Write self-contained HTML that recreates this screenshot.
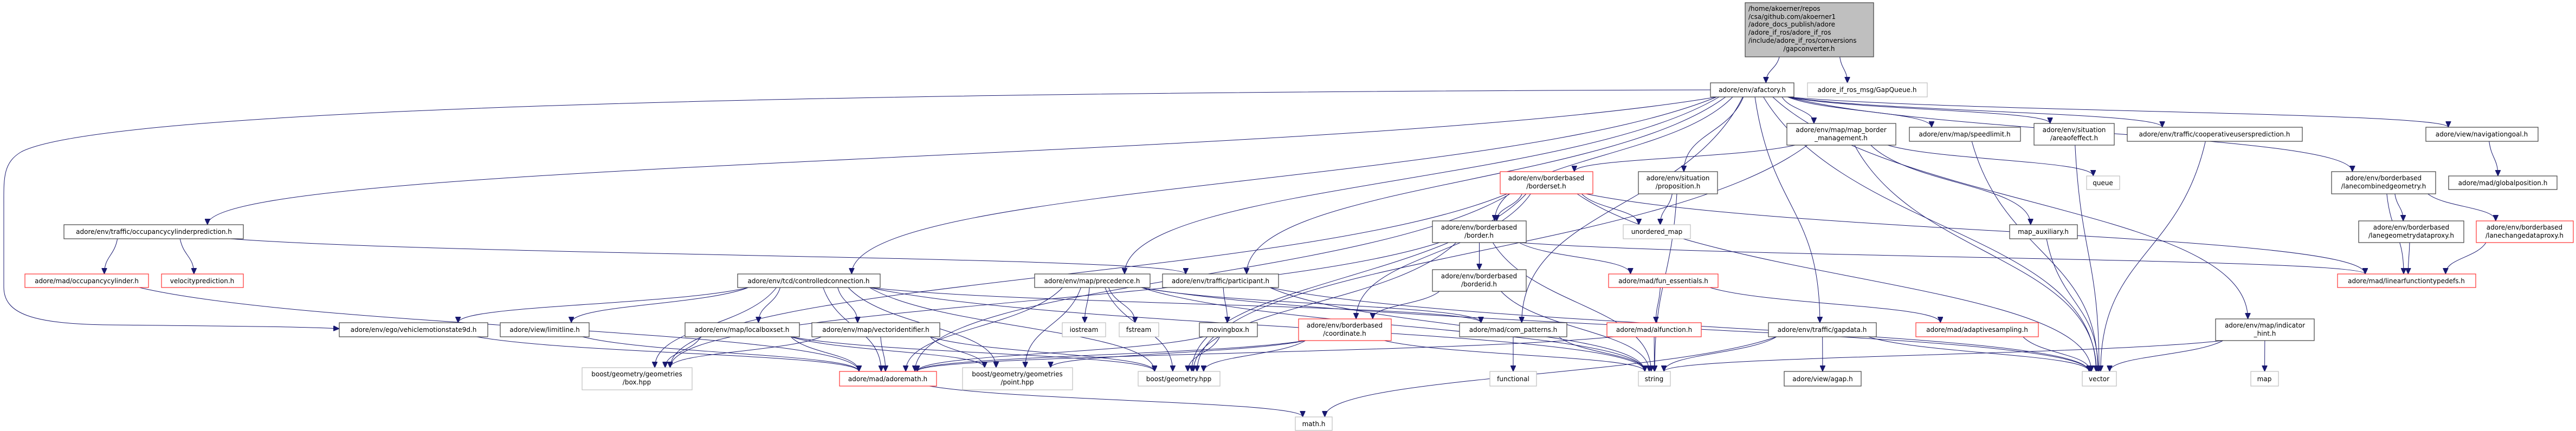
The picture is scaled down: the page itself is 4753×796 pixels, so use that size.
<!DOCTYPE html>
<html><head><meta charset="utf-8">
<style>
html,body{margin:0;padding:0;background:#fff;}
svg{display:block;}
text{font-family:"DejaVu Sans","Liberation Sans",sans-serif;font-size:12px;fill:#000;}
.b{fill:#fff;stroke:#404040;stroke-width:1.2}
.r{fill:#fff;stroke:#ff3030;stroke-width:1.2}
.g{fill:#fff;stroke:#bfbfbf;stroke-width:1.2}
.root{fill:#bfbfbf;stroke:#404040;stroke-width:1.2}
.e{fill:none;stroke:#191970;stroke-width:1}
</style></head>
<body>
<svg id="s" width="4753" height="796" viewBox="0 0 4753 796" xmlns="http://www.w3.org/2000/svg">
<defs>
<marker id="a" markerWidth="12" markerHeight="10" refX="11" refY="5" orient="auto" markerUnits="userSpaceOnUse">
<path d="M0,0 L11,5 L0,10 z" fill="#191970" stroke="#191970"/>
</marker>
</defs>
<g id="edges"></g>
<g id="nodes">
<rect class="root" x="3220" y="5" width="237" height="100"/>
<text x="3226" y="20">/home/akoerner/repos</text>
<text x="3226" y="35">/csa/github.com/akoerner1</text>
<text x="3226" y="49">/adore_docs_publish/adore</text>
<text x="3226" y="64">/adore_if_ros/adore_if_ros</text>
<text x="3226" y="79">/include/adore_if_ros/conversions</text>
<text x="3338" y="94" text-anchor="middle">/gapconverter.h</text>

<rect class="b" x="3156" y="153" width="154" height="26"/><text x="3233" y="170" text-anchor="middle">adore/env/afactory.h</text>
<rect class="g" x="3335" y="153" width="221" height="26"/><text x="3445" y="170" text-anchor="middle">adore_if_ros_msg/GapQueue.h</text>

<rect class="b" x="3297" y="228" width="201" height="40"/><text x="3397" y="244" text-anchor="middle">adore/env/map/map_border</text><text x="3397" y="259" text-anchor="middle">_management.h</text>
<rect class="b" x="3523" y="235" width="205" height="26"/><text x="3625" y="252" text-anchor="middle">adore/env/map/speedlimit.h</text>
<rect class="b" x="3753" y="228" width="148" height="40"/><text x="3827" y="244" text-anchor="middle">adore/env/situation</text><text x="3827" y="259" text-anchor="middle">/areaofeffect.h</text>
<rect class="b" x="3925" y="235" width="323" height="26"/><text x="4086" y="252" text-anchor="middle">adore/env/traffic/cooperativeusersprediction.h</text>
<rect class="b" x="4476" y="235" width="207" height="26"/><text x="4579" y="252" text-anchor="middle">adore/view/navigationgoal.h</text>

<rect class="r" x="2768" y="317" width="171" height="41"/><text x="2853" y="333" text-anchor="middle">adore/env/borderbased</text><text x="2853" y="348" text-anchor="middle">/borderset.h</text>
<rect class="b" x="3023" y="317" width="146" height="41"/><text x="3096" y="333" text-anchor="middle">adore/env/situation</text><text x="3096" y="348" text-anchor="middle">/proposition.h</text>
<rect class="g" x="3850" y="325" width="61" height="25"/><text x="3880" y="342" text-anchor="middle">queue</text>
<rect class="b" x="4302" y="317" width="192" height="41"/><text x="4398" y="333" text-anchor="middle">adore/env/borderbased</text><text x="4398" y="348" text-anchor="middle">/lanecombinedgeometry.h</text>
<rect class="b" x="4518" y="325" width="200" height="25"/><text x="4618" y="342" text-anchor="middle">adore/mad/globalposition.h</text>

<rect class="b" x="118" y="415" width="331" height="26"/><text x="284" y="432" text-anchor="middle">adore/env/traffic/occupancycylinderprediction.h</text>
<rect class="b" x="2643" y="408" width="173" height="40"/><text x="2729" y="424" text-anchor="middle">adore/env/borderbased</text><text x="2729" y="439" text-anchor="middle">/border.h</text>
<rect class="g" x="2995" y="415" width="124" height="26"/><text x="3057" y="432" text-anchor="middle">unordered_map</text>
<rect class="b" x="3708" y="415" width="125" height="26"/><text x="3770" y="432" text-anchor="middle">map_auxiliary.h</text>
<rect class="b" x="4352" y="408" width="194" height="40"/><text x="4449" y="424" text-anchor="middle">adore/env/borderbased</text><text x="4449" y="439" text-anchor="middle">/lanegeometrydataproxy.h</text>
<rect class="r" x="4569" y="408" width="179" height="40"/><text x="4658" y="424" text-anchor="middle">adore/env/borderbased</text><text x="4658" y="439" text-anchor="middle">/lanechangedataproxy.h</text>

<rect class="r" x="46" y="506" width="228" height="25"/><text x="160" y="523" text-anchor="middle">adore/mad/occupancycylinder.h</text>
<rect class="r" x="298" y="506" width="151" height="25"/><text x="373" y="523" text-anchor="middle">velocityprediction.h</text>
<rect class="b" x="1361" y="506" width="263" height="25"/><text x="1492" y="523" text-anchor="middle">adore/env/tcd/controlledconnection.h</text>
<rect class="b" x="1909" y="506" width="213" height="25"/><text x="2015" y="523" text-anchor="middle">adore/env/map/precedence.h</text>
<rect class="b" x="2145" y="506" width="214" height="25"/><text x="2252" y="523" text-anchor="middle">adore/env/traffic/participant.h</text>
<rect class="b" x="2643" y="498" width="173" height="40"/><text x="2729" y="514" text-anchor="middle">adore/env/borderbased</text><text x="2729" y="529" text-anchor="middle">/borderid.h</text>
<rect class="r" x="2968" y="506" width="202" height="25"/><text x="3069" y="523" text-anchor="middle">adore/mad/fun_essentials.h</text>
<rect class="r" x="4313" y="506" width="255" height="25"/><text x="4440" y="523" text-anchor="middle">adore/mad/linearfunctiontypedefs.h</text>

<rect class="b" x="626" y="596" width="274" height="26"/><text x="763" y="613" text-anchor="middle">adore/env/ego/vehiclemotionstate9d.h</text>
<rect class="b" x="923" y="596" width="164" height="26"/><text x="1005" y="613" text-anchor="middle">adore/view/limitline.h</text>
<rect class="b" x="1264" y="596" width="211" height="26"/><text x="1369" y="613" text-anchor="middle">adore/env/map/localboxset.h</text>
<rect class="b" x="1498" y="596" width="236" height="26"/><text x="1616" y="613" text-anchor="middle">adore/env/map/vectoridentifier.h</text>
<rect class="g" x="1960" y="596" width="80" height="26"/><text x="2000" y="613" text-anchor="middle">iostream</text>
<rect class="g" x="2065" y="596" width="73" height="26"/><text x="2101" y="613" text-anchor="middle">fstream</text>
<rect class="b" x="2213" y="596" width="107" height="26"/><text x="2266" y="613" text-anchor="middle">movingbox.h</text>
<rect class="r" x="2396" y="589" width="171" height="40"/><text x="2481" y="605" text-anchor="middle">adore/env/borderbased</text><text x="2481" y="620" text-anchor="middle">/coordinate.h</text>
<rect class="b" x="2693" y="596" width="198" height="26"/><text x="2792" y="613" text-anchor="middle">adore/mad/com_patterns.h</text>
<rect class="r" x="2965" y="596" width="174" height="26"/><text x="3052" y="613" text-anchor="middle">adore/mad/alfunction.h</text>
<rect class="b" x="3263" y="596" width="199" height="26"/><text x="3362" y="613" text-anchor="middle">adore/env/traffic/gapdata.h</text>
<rect class="r" x="3535" y="596" width="226" height="26"/><text x="3648" y="613" text-anchor="middle">adore/mad/adaptivesampling.h</text>
<rect class="b" x="4088" y="589" width="182" height="40"/><text x="4179" y="605" text-anchor="middle">adore/env/map/indicator</text><text x="4179" y="620" text-anchor="middle">_hint.h</text>

<rect class="g" x="1074" y="679" width="203" height="41"/><text x="1175" y="695" text-anchor="middle">boost/geometry/geometries</text><text x="1175" y="710" text-anchor="middle">/box.hpp</text>
<rect class="r" x="1549" y="686" width="179" height="27"/><text x="1638" y="704" text-anchor="middle">adore/mad/adoremath.h</text>
<rect class="g" x="1776" y="679" width="203" height="41"/><text x="1877" y="695" text-anchor="middle">boost/geometry/geometries</text><text x="1877" y="710" text-anchor="middle">/point.hpp</text>
<rect class="g" x="2100" y="686" width="151" height="27"/><text x="2175" y="704" text-anchor="middle">boost/geometry.hpp</text>
<rect class="g" x="2749" y="686" width="86" height="27"/><text x="2792" y="704" text-anchor="middle">functional</text>
<rect class="g" x="3023" y="686" width="59" height="27"/><text x="3052" y="704" text-anchor="middle">string</text>
<rect class="b" x="3292" y="686" width="142" height="27"/><text x="3363" y="704" text-anchor="middle">adore/view/agap.h</text>
<rect class="g" x="3842" y="686" width="63" height="27"/><text x="3873" y="704" text-anchor="middle">vector</text>
<rect class="g" x="4153" y="686" width="51" height="27"/><text x="4178" y="704" text-anchor="middle">map</text>
<rect class="g" x="2390" y="770" width="68" height="25"/><text x="2424" y="787" text-anchor="middle">math.h</text>
</g>
</svg>
<script>
var N={
root:[3220,5,3457,105],af:[3156,153,3310,179],gq:[3335,153,3556,179],
mbm:[3297,228,3498,268],sl:[3523,235,3728,261],aoe:[3753,228,3901,268],cup:[3925,235,4248,261],ng:[4476,235,4683,261],
bs:[2768,317,2939,358],pr:[3023,317,3169,358],q:[3850,325,3911,350],lcg:[4302,317,4494,358],gp:[4518,325,4718,350],
ocp:[118,415,449,441],bo:[2643,408,2816,448],um:[2995,415,3119,441],ma:[3708,415,3833,441],lgd:[4352,408,4546,448],lcd:[4569,408,4748,448],
oc:[46,506,274,531],vp:[298,506,449,531],cc:[1361,506,1624,531],prec:[1909,506,2122,531],part:[2145,506,2359,531],bid:[2643,498,2816,538],fe:[2968,506,3170,531],lft:[4313,506,4568,531],
vms:[626,596,900,622],ll:[923,596,1087,622],lbs:[1264,596,1475,622],vi:[1498,596,1734,622],ios:[1960,596,2040,622],fs:[2065,596,2138,622],mb:[2213,596,2320,622],co:[2396,589,2567,629],cp:[2693,596,2891,622],alf:[2965,596,3139,622],gd:[3263,596,3462,622],as:[3535,596,3761,622],ih:[4088,589,4270,629],
box:[1074,679,1277,720],am:[1549,686,1728,713],pt:[1776,679,1979,720],bg:[2100,686,2251,713],fn:[2749,686,2835,713],str:[3023,686,3082,713],ag:[3292,686,3434,713],vec:[3842,686,3905,713],map:[4153,686,4204,713],mh:[2390,770,2458,795]};
var E="root-af root-gq af-ocp af-cc af-prec af-part af-bo af-pr af-mbm af-sl af-aoe af-cup af-ng af-lcg af-gd af-ih af-cp af-vec "+
"mbm-bs mbm-ma mbm-q mbm-vec mbm-bg sl-vec aoe-vec cup-vec ih-vec ih-map ih-str ng-gp lcg-lft lcg-lgd lcg-lcd lgd-lft lcd-lft "+
"bs-bo bs-um bs-vec bs-lft bs-co bs-box bs-bg bs-am pr-um pr-str bo-bid bo-fe bo-lft bo-box bo-bg bo-str bid-co bid-str fe-alf fe-as alf-str alf-am as-vec "+
"ocp-oc ocp-vp ocp-part oc-am cc-vms cc-ll cc-lbs cc-vi cc-box cc-pt cc-am cc-bg cc-cp cc-str lbs-box lbs-am lbs-pt lbs-bg vi-am vi-box vi-pt vi-bg ll-am vms-am "+
"prec-am prec-pt prec-ios prec-fs prec-bg prec-cp prec-str prec-vec part-mb part-vec part-str mb-am mb-bg co-am co-pt co-bg co-str am-mh gd-ag gd-mh gd-vec gd-str cp-fn cp-str ma-vec";
var g=document.getElementById("edges"),ns="http://www.w3.org/2000/svg";
function add(d){var e=document.createElementNS(ns,"path");e.setAttribute("d",d);e.setAttribute("class","e");e.setAttribute("marker-end","url(#a)");g.appendChild(e);}
function cl(v,lo,hi){return Math.max(lo,Math.min(hi,v));}
E.split(/\s+/).forEach(function(p){
 var a=N[p.split("-")[0]],b=N[p.split("-")[1]];if(!a||!b)return;
 var acx=(a[0]+a[2])/2,bcx=(b[0]+b[2])/2,ah=(a[2]-a[0])/2,bh=(b[2]-b[0])/2;
 var dx=bcx-acx,dy=Math.max(30,b[1]-a[3]);
 var f=cl(dx/(dy*4),-1,1);
 var sx=acx+f*ah*0.85,sy=a[3];
 var tx=bcx-cl(dx/(dy*4),-1,1)*bh*0.6,ty=b[1];
 var d;
 if(b[1]>a[3]+5){var k=(ty-sy)*0.5;d="M"+sx+","+sy+" C"+(sx+(tx-sx)*0.25)+","+(sy+k)+" "+tx+","+(ty-k)+" "+tx+","+ty;}
 else{var sxx=acx<bcx?a[2]:a[0],txx=acx<bcx?b[0]:b[2],yy=(b[1]+b[3])/2,ys=(a[1]+a[3])/2;
  d="M"+sxx+","+ys+" C"+(sxx+txx)/2+","+ys+" "+(sxx+txx)/2+","+yy+" "+txx+","+yy;}
 add(d);
});
// special: afactory -> vehiclemotionstate9d via far-left loop
add("M3156,166 C1500,170 200,200 40,280 C5,300 7,330 7,380 L7,530 C7,580 60,598 200,600 C400,602 550,603 626,607");
</script>
</body></html>
